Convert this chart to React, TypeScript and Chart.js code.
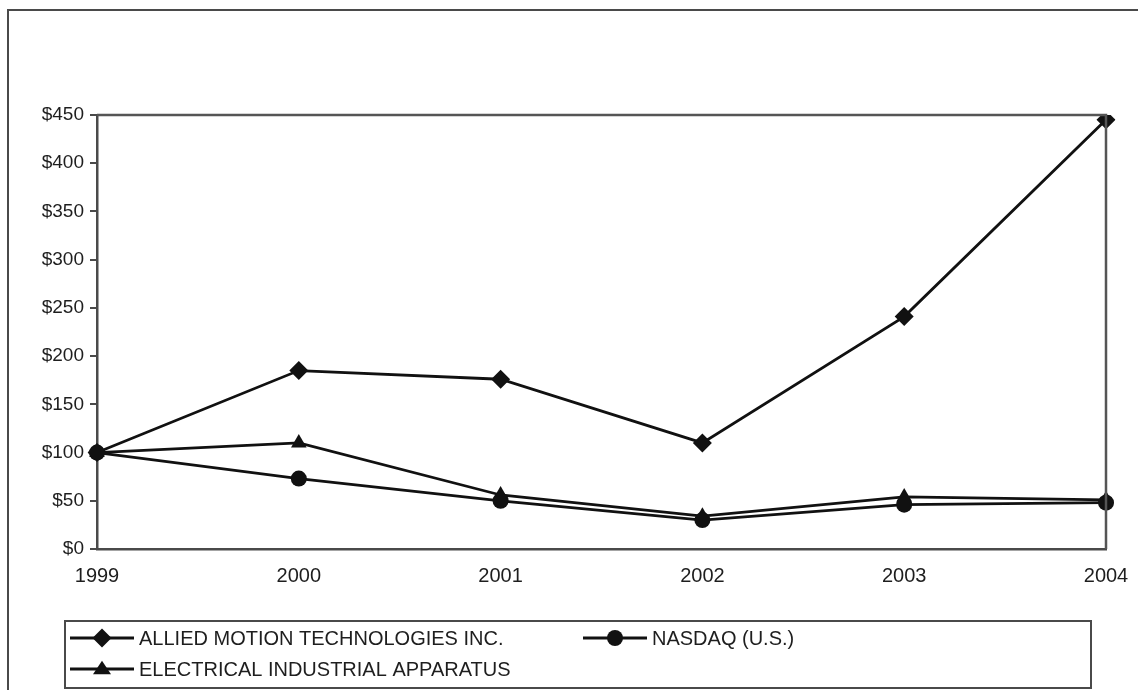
import React, { useEffect, useRef } from "react";
import { Chart, registerables } from "chart.js";

Chart.register(...registerables);

const years = ["1999", "2000", "2001", "2002", "2003", "2004"];
const allied = [100, 185, 176, 110, 241, 445];
const nasdaq = [100, 73, 50, 30, 46, 48];
const electrical = [100, 110, 56, 34, 54, 51];
const yTickValues = [0, 50, 100, 150, 200, 250, 300, 350, 400, 450];

const seriesNames = [
  "ALLIED MOTION TECHNOLOGIES INC.",
  "NASDAQ (U.S.)",
  "ELECTRICAL INDUSTRIAL APPARATUS",
];

const FONT = "'Liberation Sans', Arial, Helvetica, sans-serif";
const INK = "#111";
const TEXT = "#1e1e1e";
const FRAME = "#4a4a4a";

function drawMarker(ctx: CanvasRenderingContext2D, style: string, x: number, y: number, r: number) {
  ctx.save();
  ctx.fillStyle = INK;
  ctx.beginPath();
  if (style === "rectRot") {
    ctx.moveTo(x, y - r);
    ctx.lineTo(x + r, y);
    ctx.lineTo(x, y + r);
    ctx.lineTo(x - r, y);
    ctx.closePath();
  } else if (style === "circle") {
    ctx.arc(x, y, r, 0, Math.PI * 2);
  } else {
    const h = r * 1.5;
    ctx.moveTo(x, y - h * 0.62);
    ctx.lineTo(x + r, y + h * 0.38);
    ctx.lineTo(x - r, y + h * 0.38);
    ctx.closePath();
  }
  ctx.fill();
  ctx.restore();
}

const framePlugin = {
  id: "framePlugin",
  afterDraw(chart: any) {
    const ctx: CanvasRenderingContext2D = chart.ctx;
    const { left, top, right, bottom } = chart.chartArea;
    ctx.save();
    // outer border
    ctx.strokeStyle = FRAME;
    ctx.lineWidth = 2;
    ctx.beginPath();
    ctx.moveTo(8, chart.height);
    ctx.lineTo(8, 10);
    ctx.lineTo(chart.width, 10);
    ctx.stroke();
    // plot area top and right
    ctx.lineWidth = 2.5;
    ctx.strokeStyle = "#555";
    ctx.beginPath();
    ctx.moveTo(left, top);
    ctx.lineTo(right, top);
    ctx.lineTo(right, bottom);
    ctx.stroke();

    // legend box
    const boxL = 65, boxT = 621, boxR = 1091, boxB = 688;
    ctx.strokeStyle = FRAME;
    ctx.lineWidth = 2;
    ctx.strokeRect(boxL, boxT, boxR - boxL, boxB - boxT);

    const slots = [
      { x: 70, y: 638 },
      { x: 583, y: 638 },
      { x: 70, y: 669 },
    ];
    ctx.font = `20px ${FONT}`;
    ctx.textBaseline = "middle";
    ctx.textAlign = "left";
    chart.data.datasets.forEach((ds: any, i: number) => {
      const s = slots[i];
      ctx.strokeStyle = INK;
      ctx.lineWidth = 3;
      ctx.beginPath();
      ctx.moveTo(s.x, s.y);
      ctx.lineTo(s.x + 64, s.y);
      ctx.stroke();
      drawMarker(ctx, ds.pointStyle, s.x + 32, s.y, ds.pointRadius);
      ctx.fillStyle = TEXT;
      ctx.fillText(ds.label, s.x + 69, s.y + 1);
    });
    ctx.restore();
  },
};

export default function App() {
  const ref = useRef<HTMLCanvasElement>(null);

  useEffect(() => {
    if (!ref.current) return;
    const mk = (label: string, data: number[], style: string, r: number) => ({
      label,
      data,
      borderColor: INK,
      backgroundColor: INK,
      borderWidth: 2.8,
      pointStyle: style,
      pointRadius: r,
      pointHoverRadius: r,
      pointBackgroundColor: INK,
      pointBorderColor: INK,
      pointBorderWidth: 0,
      tension: 0,
      fill: false,
    });
    const chart = new Chart(ref.current, {
      type: "line",
      data: {
        labels: years,
        datasets: [
          mk(seriesNames[0], allied, "rectRot", 9.5),
          mk(seriesNames[1], nasdaq, "circle", 8),
          mk(seriesNames[2], electrical, "triangle", 9),
        ],
      },
      options: {
        responsive: false,
        animation: false,
        devicePixelRatio: 1,
        layout: { padding: { left: 0, top: 115, right: 32, bottom: 101 } },
        plugins: {
          legend: { display: false },
          tooltip: { enabled: false },
          title: { display: false },
        },
        scales: {
          x: {
            type: "category",
            offset: false,
            grid: { display: false },
            border: { display: true, color: FRAME, width: 2.5 },
            ticks: {
              color: TEXT,
              font: { family: FONT, size: 20 },
              padding: 7,
              maxRotation: 0,
              autoSkip: false,
            },
            afterFit: (s: any) => {
              s.height = 40;
            },
          },
          y: {
            min: 0,
            max: 450,
            afterBuildTicks: (s: any) => {
              s.ticks = yTickValues.map((v) => ({ value: v }));
            },
            grid: {
              drawOnChartArea: false,
              drawTicks: true,
              tickLength: 7,
              color: FRAME,
              lineWidth: 2,
            },
            border: { display: true, color: FRAME, width: 2.5 },
            ticks: {
              color: TEXT,
              font: { family: FONT, size: 19 },
              padding: 6,
              callback: (v: any) => "$" + v,
            },
            afterFit: (s: any) => {
              s.width = 97;
            },
          },
        },
      },
      plugins: [framePlugin],
    });
    return () => chart.destroy();
  }, []);

  return (
    <div style={{ position: "fixed", left: 0, top: 0, width: 1138, height: 690, background: "#fff" }}>
      <canvas ref={ref} width={1138} height={690} style={{ display: "block" }} />
    </div>
  );
}
